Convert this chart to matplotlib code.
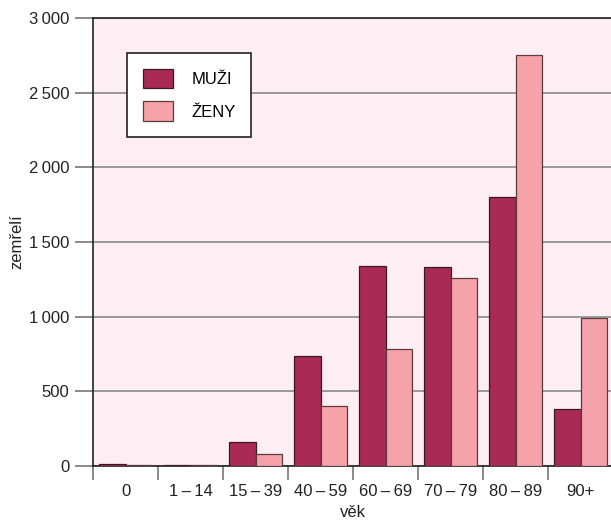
import matplotlib.pyplot as plt
import numpy as np

plt.rcParams['font.family'] = ['Liberation Sans', 'DejaVu Sans']

# data
vek = ['0', '1\u2009\u2013\u200914', '15\u2009\u2013\u200939', '40\u2009\u2013\u200959', '60\u2009\u2013\u200969',
       '70\u2009\u2013\u200979', '80\u2009\u2013\u200989', '90+']
muzi = [15, 8, 161, 737, 1340, 1335, 1802, 382]
zeny = [5, 5, 80, 402, 784, 1259, 2753, 991]
yticks = [0, 500, 1000, 1500, 2000, 2500, 3000]
ytick_labels = ['0', '500', '1\u2009000', '1\u2009500', '2\u2009000', '2\u2009500', '3\u2009000']

fig = plt.figure(figsize=(6.11, 5.2), dpi=100)
ax = fig.add_axes([93/611, 54/520, 520/611, 448/520])
ax.set_facecolor('#fdeef4')

x = np.arange(len(vek))
w = 0.41
ax.bar(x - w/2, muzi, w, color='#a82a55', edgecolor='#3a1a22', linewidth=0.9, label='MUŽI', zorder=3)
ax.bar(x + w/2, zeny, w, color='#f5a3a8', edgecolor='#5a3a3e', linewidth=0.9, label='ŽENY', zorder=3)

ax.set_xlim(-0.5, len(vek) - 0.5)
ax.set_ylim(0, 3000)
ax.set_yticks(yticks)
ax.set_yticklabels(ytick_labels)
ax.yaxis.grid(True, color='#8a8a8a', linewidth=1.2, zorder=0)

# ticks between categories, labels centered
ax.set_xticks(np.arange(len(vek) + 1) - 0.5)
ax.set_xticklabels([])
ax.set_xticks(x, minor=True)
ax.set_xticklabels(vek, minor=True)
ax.tick_params(axis='x', which='major', length=10, width=1.2, color='#777777', direction='out')
ax.tick_params(axis='x', which='minor', length=0, pad=13, labelsize=12, labelcolor='#222222')
ax.tick_params(axis='y', length=13, width=1.2, color='#777777', labelsize=12, labelcolor='#222222', pad=4)

for s in ['left', 'bottom', 'top']:
    ax.spines[s].set_color('#222222')
    ax.spines[s].set_linewidth(1.2)
ax.spines['right'].set_visible(False)

ax.set_xlabel('věk', fontsize=12, color='#222222', labelpad=4)
ax.set_ylabel('zemřelí', fontsize=12, color='#222222', labelpad=3)

leg = ax.legend(loc='upper left', bbox_to_anchor=(34/520, 1 - 35/448), frameon=True, fancybox=False,
                fontsize=12, handlelength=1.8, handleheight=1.4, borderpad=0.95, labelspacing=0.8,
                handletextpad=1.1, borderaxespad=0)
leg.get_frame().set_edgecolor('#222222')
leg.get_frame().set_linewidth(1.2)
leg.get_frame().set_facecolor('white')
leg.get_frame().set_alpha(1)
leg.set_zorder(5)

fig.savefig('out.png', dpi=100)
